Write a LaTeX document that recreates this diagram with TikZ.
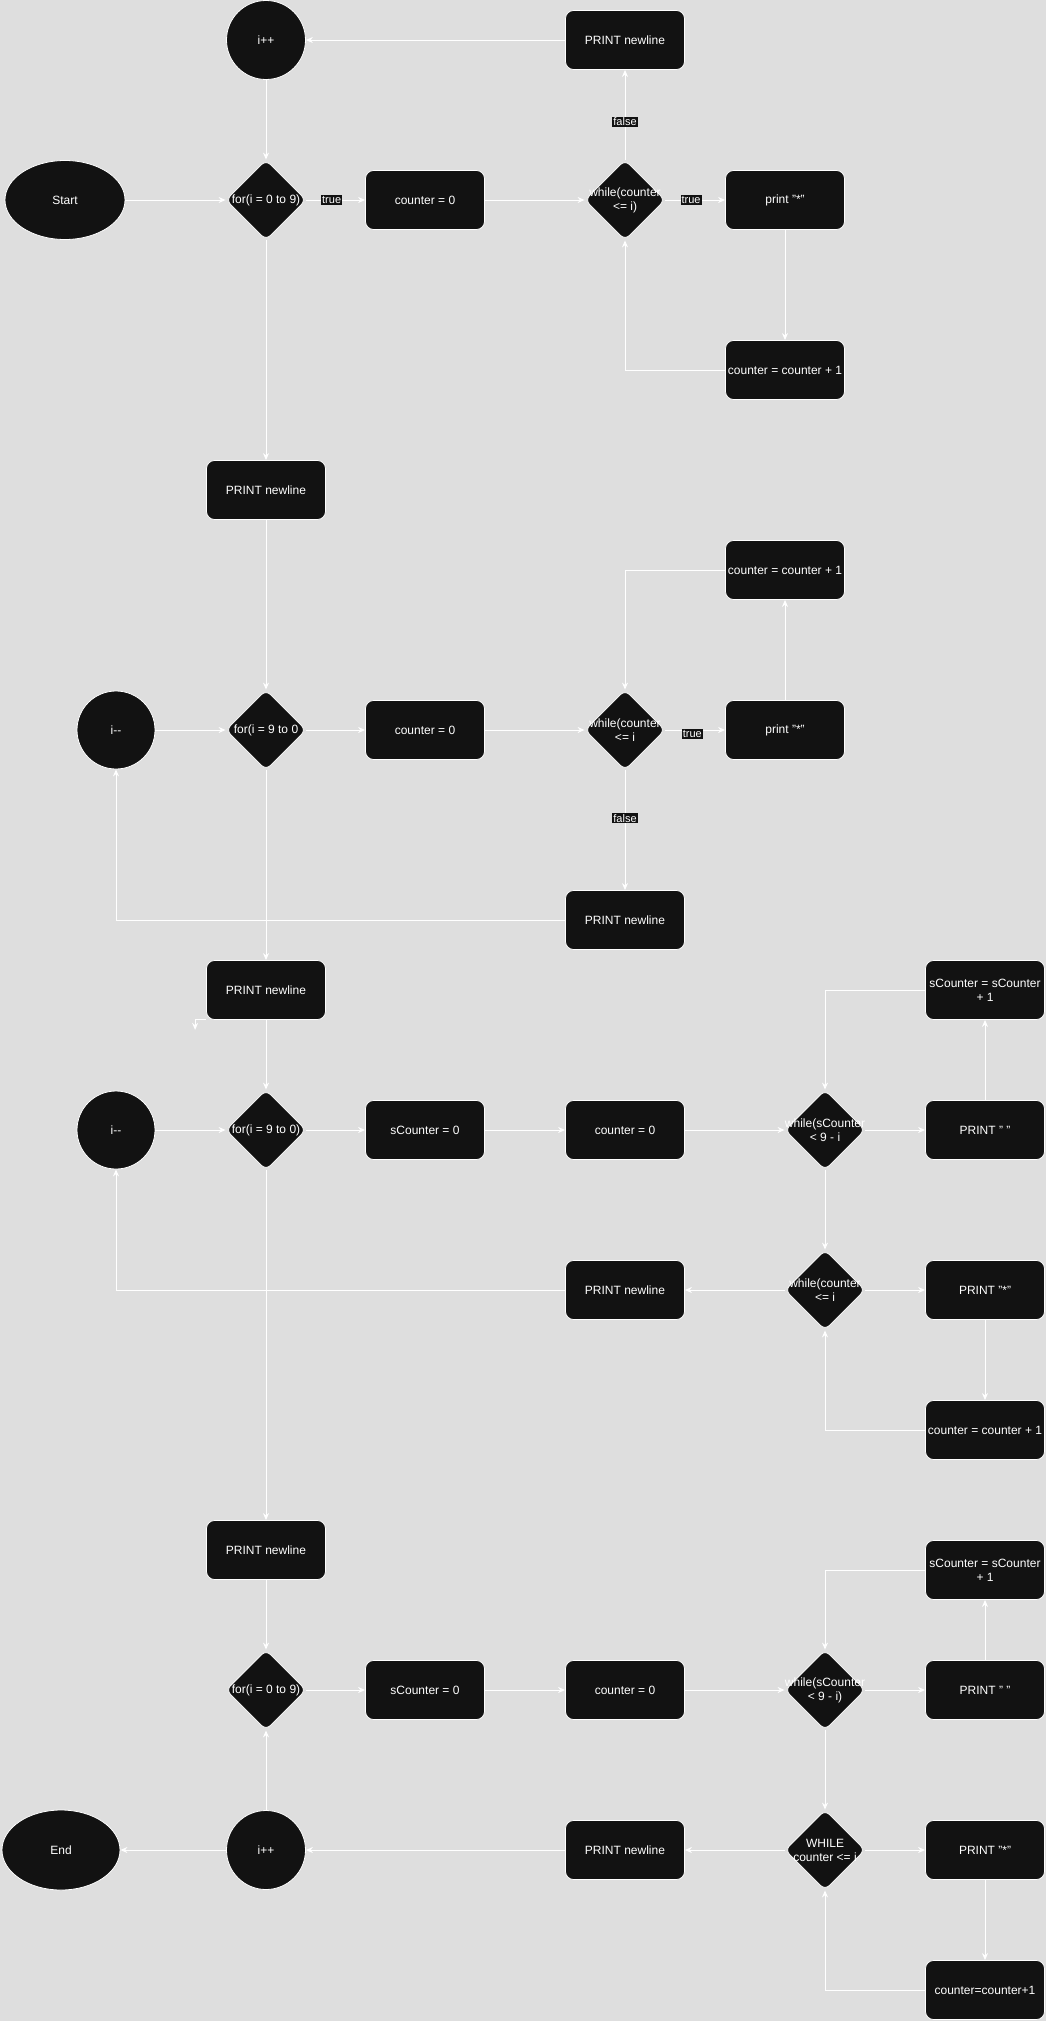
\documentclass[tikz,border=0pt]{standalone}
\usepackage{fontspec}
\setmainfont{Liberation Sans}
\usetikzlibrary{positioning, arrows.meta, shapes.geometric}
\definecolor{canvas}{HTML}{DEDEDE}
\definecolor{ink}{HTML}{121212}

\begin{document}
\begin{tikzpicture}[
    x=1pt, y=1pt,
    on grid,
    font=\fontsize{12}{14}\selectfont,
    process/.style={
        rectangle,
        rounded corners=8pt,
        draw=white,
        line width=0.8pt,
        fill=ink,
        text=white,
        align=center,
        inner sep=2pt,
        minimum width=119pt,
        minimum height=59pt
    },
    decision/.style={
        diamond,
        rounded corners=6pt,
        draw=white,
        line width=0.8pt,
        fill=ink,
        inner sep=0pt,
        minimum width=80pt,
        minimum height=80pt
    },
    terminal/.style={
        ellipse,
        draw=white,
        line width=0.8pt,
        fill=ink,
        text=white,
        minimum width=120pt,
        minimum height=79pt
    },
    counterop/.style={
        circle,
        draw=white,
        line width=0.8pt,
        fill=ink,
        text=white,
        minimum size=79pt
    },
    dtext/.style={text=white, align=center},
    tag/.style={fill=ink, text=white, inner sep=1pt, font=\fontsize{11}{12}\selectfont},
    flow/.style={draw=white, line width=1pt, -{Stealth[length=7pt, width=6pt]}}
]

\fill[canvas] (0,0) rectangle (1046,-2021);
\useasboundingbox (0,0) rectangle (1046,-2021);

% Part 1: growing triangle
\node[terminal] (start) at (65,-200) {Start};
\node[decision, right=201pt of start, label={[dtext]center:for(i = 0 to 9)}] (for1) {};
\node[process, right=159pt of for1] (cnt1) {counter = 0};
\node[decision, right=200pt of cnt1, label={[dtext]center:while(counter\\<= i)}] (wh1) {};
\node[process, right=160pt of wh1] (pr1) {print "*"};
\node[process, below=170pt of pr1] (inc1) {counter = counter + 1};
\node[process, above=160pt of wh1] (nl1) {PRINT newline};
\node[counterop, above=160pt of for1] (ipp1) {i++};
\node[process, below=290pt of for1] (nl2) {PRINT newline};

% Part 2: shrinking triangle
\node[decision, below=240pt of nl2, label={[dtext]center:for(i = 9 to 0}] (for2) {};
\node[counterop, left=150pt of for2, minimum size=78pt] (imm2) {i-{}-};
\node[process, right=159pt of for2] (cnt2) {counter = 0};
\node[decision, right=200pt of cnt2, label={[dtext]center:while(counter\\<= i}] (wh2) {};
\node[process, right=160pt of wh2] (pr2) {print "*"};
\node[process, above=160pt of pr2] (inc2) {counter = counter + 1};
\node[process, below=190pt of wh2] (nl3) {PRINT newline};
\node[process, below=260pt of for2] (nl4) {PRINT newline};

% Part 3: right-aligned shrinking triangle
\node[decision, below=140pt of nl4, label={[dtext]center:for(i = 9 to 0)}] (for3) {};
\node[counterop, left=150pt of for3, minimum size=78pt] (imm3) {i-{}-};
\node[process, right=159pt of for3] (scnt3) {sCounter = 0};
\node[process, right=200pt of scnt3] (cnt3) {counter = 0};
\node[decision, right=200pt of cnt3, label={[dtext]center:while(sCounter\\< 9 - i}] (ws3) {};
\node[process, right=160pt of ws3] (sp3) {PRINT "\ "};
\node[process, above=140pt of sp3] (sinc3) {sCounter = sCounter\\+ 1};
\node[decision, below=160pt of ws3, label={[dtext]center:while(counter\\<= i}] (wc3) {};
\node[process, right=160pt of wc3] (ps3) {PRINT "*"};
\node[process, below=140pt of ps3] (inc3) {counter = counter + 1};
\node[process, left=200pt of wc3] (nl5) {PRINT newline};
\coordinate[below left=10pt and 11pt of nl4.south west] (stubend);
\node[process, below=420pt of for3] (nl6) {PRINT newline};

% Part 4: right-aligned growing triangle
\node[decision, below=140pt of nl6, label={[dtext]center:for(i = 0 to 9)}] (for4) {};
\node[process, right=159pt of for4] (scnt4) {sCounter = 0};
\node[process, right=200pt of scnt4] (cnt4) {counter = 0};
\node[decision, right=200pt of cnt4, label={[dtext]center:while(sCounter\\< 9 - i)}] (ws4) {};
\node[process, right=160pt of ws4] (sp4) {PRINT "\ "};
\node[process, above=120pt of sp4] (sinc4) {sCounter = sCounter\\+ 1};
\node[decision, below=160pt of ws4, label={[dtext]center:WHILE\\counter <= i}] (wc4) {};
\node[process, right=160pt of wc4] (ps4) {PRINT "*"};
\node[process, below=140pt of ps4] (inc4) {counter=counter+1};
\node[process, left=200pt of wc4] (nl7) {PRINT newline};
\node[counterop, below=160pt of for4] (ipp4) {i++};
\node[terminal, left=205pt of ipp4, minimum width=118pt, minimum height=80pt] (stop) {End};

% Part 1 flow
\draw[flow] (start) -- (for1);
\draw[flow] (for1) -- node[tag, pos=0.43] {true} (cnt1);
\draw[flow] (cnt1) -- (wh1);
\draw[flow] (wh1) -- node[tag, pos=0.43] {true} (pr1);
\draw[flow] (pr1) -- (inc1);
\draw[flow] (inc1) -| (wh1);
\draw[flow] (wh1) -- node[tag, pos=0.42] {false} (nl1);
\draw[flow] (nl1) -- (ipp1);
\draw[flow] (ipp1) -- (for1);
\draw[flow] (for1) -- (nl2);

% Part 2 flow
\draw[flow] (nl2) -- (for2);
\draw[flow] (imm2) -- (for2);
\draw[flow] (for2) -- (cnt2);
\draw[flow] (cnt2) -- (wh2);
\draw[flow] (wh2) -- node[tag, pos=0.45, yshift=-4pt] {true} (pr2);
\draw[flow] (pr2) -- (inc2);
\draw[flow] (inc2) -| (wh2);
\draw[flow] (wh2) -- node[tag, pos=0.4] {false} (nl3);
\draw[flow] (nl3) -| (imm2);
\draw[flow] (for2) -- (nl4);

% Part 3 flow
\draw[flow] (nl4) -- (for3);
\draw[flow] (nl4.south west) -| (stubend);
\draw[flow] (imm3) -- (for3);
\draw[flow] (for3) -- (scnt3);
\draw[flow] (scnt3) -- (cnt3);
\draw[flow] (cnt3) -- (ws3);
\draw[flow] (ws3) -- (sp3);
\draw[flow] (sp3) -- (sinc3);
\draw[flow] (sinc3) -| (ws3);
\draw[flow] (ws3) -- (wc3);
\draw[flow] (wc3) -- (ps3);
\draw[flow] (ps3) -- (inc3);
\draw[flow] (inc3) -| (wc3);
\draw[flow] (wc3) -- (nl5);
\draw[flow] (nl5) -| (imm3);
\draw[flow] (for3) -- (nl6);

% Part 4 flow
\draw[flow] (nl6) -- (for4);
\draw[flow] (for4) -- (scnt4);
\draw[flow] (scnt4) -- (cnt4);
\draw[flow] (cnt4) -- (ws4);
\draw[flow] (ws4) -- (sp4);
\draw[flow] (sp4) -- (sinc4);
\draw[flow] (sinc4) -| (ws4);
\draw[flow] (ws4) -- (wc4);
\draw[flow] (wc4) -- (ps4);
\draw[flow] (ps4) -- (inc4);
\draw[flow] (inc4) -| (wc4);
\draw[flow] (wc4) -- (nl7);
\draw[flow] (nl7) -- (ipp4);
\draw[flow] (ipp4) -- (for4);
\draw[flow] (ipp4) -- (stop);

\end{tikzpicture}
\end{document}
